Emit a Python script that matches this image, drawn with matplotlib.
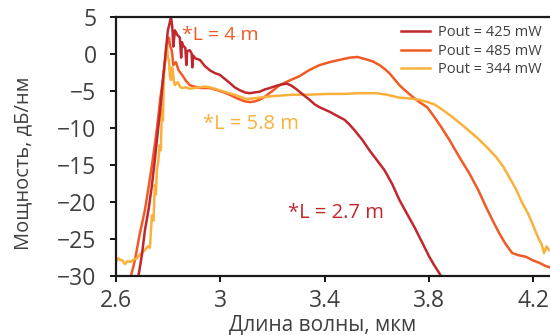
import matplotlib
matplotlib.use("Agg")
import matplotlib.pyplot as plt

plt.rcParams['font.family'] = ['Open Sans', 'DejaVu Sans']

# Data (wavelength in um, power in dB/nm)
red_x = [2.684, 2.700, 2.711, 2.725, 2.738, 2.750, 2.761, 2.770, 2.780, 2.790, 2.799, 2.806, 2.811,
         2.816, 2.820, 2.826, 2.835, 2.845, 2.850, 2.853, 2.856, 2.866, 2.870, 2.873, 2.883, 2.890, 2.893,
         2.896, 2.905, 2.922, 2.940, 2.960, 2.980, 2.998, 3.015, 3.036, 3.055, 3.075, 3.095, 3.113, 3.130,
         3.151, 3.170, 3.190, 3.215, 3.239, 3.255, 3.274, 3.290, 3.304, 3.325, 3.343, 3.362, 3.381, 3.400,
         3.419, 3.445, 3.477, 3.495, 3.515, 3.545, 3.572, 3.600, 3.630, 3.660, 3.687, 3.715, 3.745, 3.775,
         3.802, 3.820, 3.840, 3.859]
red_y = [-30.5, -27.0, -23.8, -21.0, -17.7, -14.0, -10.3, -7.5, -3.5, 0.0, 3.2, 4.2, 5.0,
         3.6, 1.0, 3.2, 2.6, 2.2, -0.5, 1.6, 1.2, 0.8, -1.5, 0.4, 0.5, 0.1, -1.8,
         -0.2, -0.6, -0.8, -1.6, -2.2, -2.6, -2.8, -3.3, -3.9, -4.5, -4.9, -5.2, -5.3, -5.2,
         -5.1, -4.8, -4.6, -4.3, -4.1, -4.0, -4.3, -4.7, -5.1, -5.7, -6.2, -6.8, -7.2, -7.5,
         -7.8, -8.3, -8.9, -9.5, -10.3, -11.6, -13.0, -14.3, -15.7, -17.6, -19.7, -21.5, -23.4, -25.5,
         -27.4, -28.5, -29.6, -30.8]

orange_x = [2.654, 2.673, 2.690, 2.711, 2.725, 2.738, 2.750, 2.761, 2.770, 2.780, 2.790, 2.795, 2.803,
            2.808, 2.814, 2.820, 2.830, 2.840, 2.853, 2.868, 2.883, 2.900, 2.922, 2.940, 2.960, 2.980,
            2.998, 3.015, 3.036, 3.065, 3.094, 3.115, 3.132, 3.150, 3.170, 3.200, 3.228, 3.265, 3.304,
            3.340, 3.381, 3.420, 3.457, 3.496, 3.526, 3.557, 3.585, 3.611, 3.630, 3.649, 3.668, 3.687,
            3.705, 3.725, 3.745, 3.764, 3.794, 3.821, 3.850, 3.879, 3.915, 3.955, 3.990, 4.020, 4.045,
            4.070, 4.095, 4.120, 4.145, 4.173, 4.200, 4.223, 4.245, 4.261]
orange_y = [-30.5, -27.8, -24.5, -21.1, -18.0, -15.0, -12.0, -8.9, -6.0, -3.5, -0.5, 1.2, 2.2,
            1.0, 0.5, -1.5, -1.1, -2.2, -2.8, -3.6, -4.2, -4.4, -4.6, -4.6, -4.6, -4.8,
            -5.0, -5.2, -5.5, -6.0, -6.4, -6.5, -6.4, -6.2, -5.8, -5.0, -4.2, -3.6, -3.0,
            -2.2, -1.5, -1.1, -0.8, -0.5, -0.4, -0.7, -1.0, -1.5, -2.0, -2.6, -3.4, -4.2,
            -4.8, -5.4, -6.0, -6.5, -7.2, -8.5, -10.0, -11.6, -13.8, -16.1, -18.4, -20.7, -22.5,
            -24.2, -25.7, -26.9, -27.2, -27.4, -27.9, -28.2, -28.6, -28.8]

yellow_x = [2.600, 2.608, 2.615, 2.625, 2.634, 2.644, 2.654, 2.667, 2.680, 2.695, 2.711, 2.722, 2.730,
            2.734, 2.738, 2.744, 2.749, 2.753, 2.757, 2.762, 2.768, 2.772, 2.776, 2.780, 2.784, 2.788,
            2.791, 2.795, 2.799, 2.803, 2.807, 2.811, 2.815, 2.818, 2.822, 2.826, 2.837, 2.845, 2.853,
            2.868, 2.883, 2.900, 2.922, 2.940, 2.960, 2.998, 3.036, 3.070, 3.101, 3.125, 3.151, 3.200,
            3.240, 3.278, 3.340, 3.408, 3.470, 3.534, 3.599, 3.640, 3.687, 3.725, 3.764, 3.795, 3.821,
            3.855, 3.890, 3.935, 3.982, 4.020, 4.058, 4.085, 4.108, 4.135, 4.158, 4.180, 4.196, 4.210,
            4.223, 4.232, 4.242, 4.252, 4.261]
yellow_y = [-28.1, -27.6, -27.8, -27.9, -28.4, -28.0, -28.1, -27.8, -27.6, -27.0, -26.5, -26.0, -26.2,
            -24.0, -21.8, -22.5, -17.7, -19.0, -15.7, -14.5, -12.3, -13.0, -7.6, -9.0, -2.8, -1.0,
            0.5, 1.4, -0.5, -0.8, -3.0, -3.5, -1.8, -2.2, -3.6, -4.2, -3.8, -4.4, -4.6,
            -4.5, -4.7, -4.6, -4.5, -4.4, -4.5, -4.9, -5.3, -5.7, -6.1, -6.0, -5.9, -5.7,
            -5.6, -5.5, -5.5, -5.4, -5.4, -5.3, -5.3, -5.5, -5.9, -6.0, -6.2, -6.5, -6.8,
            -7.6, -8.5, -9.8, -11.2, -12.5, -13.9, -15.2, -16.6, -18.3, -20.1, -21.5, -22.8, -24.0,
            -25.1, -25.6, -26.9, -26.0, -26.5]

labels = ["Pout = 425 mW", "Pout = 485 mW", "Pout = 344 mW"]
annotations = ["*L = 2.7 m", "*L = 4 m", "*L = 5.8 m"]
xticks = [2.6, 3.0, 3.4, 3.8, 4.2]
xticklabels = ["2.6", "3", "3.4", "3.8", "4.2"]
yticks = [5, 0, -5, -10, -15, -20, -25, -30]

c_red = "#C1272D"
c_orange = "#F15A24"
c_yellow = "#FBB03B"
txt = "#404040"

fig = plt.figure(figsize=(5.5, 3.35), dpi=100)
ax = fig.add_axes([0.2109, 0.1761, 0.7891, 0.7732])

lo, = ax.plot(orange_x, orange_y, color=c_orange, lw=1.8, label=labels[1])
ly, = ax.plot(yellow_x, yellow_y, color=c_yellow, lw=1.8, label=labels[2])
lr, = ax.plot(red_x, red_y, color=c_red, lw=1.8, label=labels[0])

ax.set_xlim(2.6, 4.265)
ax.set_ylim(-30, 5)
ax.set_xticks(xticks)
ax.set_xticklabels(xticklabels)
ax.set_yticks(yticks)
ax.tick_params(direction='out', length=4, width=1.3, colors='black', labelcolor=txt,
               labelsize=16.5)
ax.tick_params(axis='y', pad=10)
ax.tick_params(axis='x', pad=5)
for s in ['left', 'bottom', 'top']:
    ax.spines[s].set_linewidth(1.6)
    ax.spines[s].set_color('#1a1a1a')
ax.spines['right'].set_visible(False)

ax.set_xlabel("Длина волны, мкм", fontsize=15, color=txt)
ax.set_ylabel("Мощность, дБ/нм", fontsize=14.5, color=txt)
ax.yaxis.set_label_coords(-0.19, 0.435)
ax.xaxis.set_label_coords(0.477, -0.15)

ax.text(3.258, -21.5, annotations[0], color=c_red, fontsize=14.5, va='center', ha='left')
ax.text(2.853, 2.6, annotations[1], color=c_orange, fontsize=14, va='center', ha='left')
ax.text(2.933, -9.5, annotations[2], color=c_yellow, fontsize=14.5, va='center', ha='left')

leg = ax.legend(handles=[lr, lo, ly], loc='upper right', bbox_to_anchor=(1.0, 1.0),
                frameon=False, fontsize=10.5, handlelength=2.0, handletextpad=0.55,
                labelspacing=0.25, borderaxespad=0.15, labelcolor=txt)

fig.savefig("out.png", dpi=100)
